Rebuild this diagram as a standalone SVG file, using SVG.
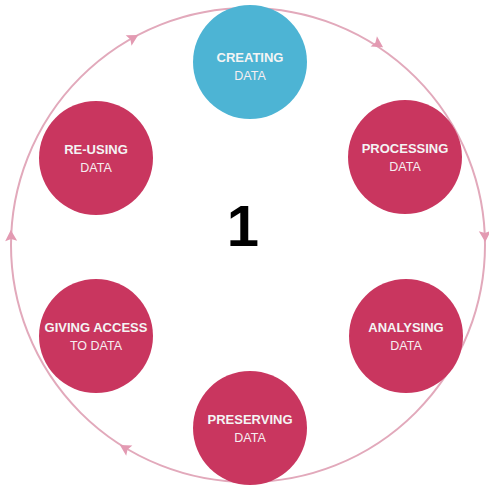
<svg xmlns="http://www.w3.org/2000/svg" xmlns:xlink="http://www.w3.org/1999/xlink" width="489" height="486" viewBox="0 0 489 486">
  <style>
    .ring { fill: none; stroke: #e2a9bb; stroke-width: 2; }
    .head { fill: #e39ab2; }
    .stage { fill: #c9365f; }
    .start { fill: #4db4d4; }
    .t1 { font-family: "Liberation Sans", Arial, sans-serif; font-size: 13px; font-weight: bold; fill: #f4f4f4; text-anchor: middle; }
    .t2 { font-family: "Liberation Sans", Arial, sans-serif; font-size: 12.5px; fill: #f6eef1; text-anchor: middle; }
    .num { font-family: "Liberation Sans", Arial, sans-serif; font-size: 58px; font-weight: bold; fill: #000; text-anchor: middle; }
  </style>
  <defs>
    <path id="arrowhead" class="head" d="M6,0 L-5,-6 L-3,0 L-5,6 Z"/>
  </defs>
  <rect width="489" height="486" fill="#ffffff"/>

  <!-- lifecycle ring with clockwise arrowheads -->
  <g id="connectors">
    <circle class="ring" cx="248" cy="245" r="237"/>
    <use xlink:href="#arrowhead" transform="translate(133,38) rotate(-29)"/>
    <use xlink:href="#arrowhead" transform="translate(378,44) rotate(32)"/>
    <use xlink:href="#arrowhead" transform="translate(485,236) rotate(88)"/>
    <use xlink:href="#arrowhead" transform="translate(125,448) rotate(211)"/>
    <use xlink:href="#arrowhead" transform="translate(11,236) rotate(268)"/>
  </g>

  <g id="creating">
    <circle class="start" cx="250" cy="62" r="57"/>
    <text class="t1" x="250" y="62">CREATING</text>
    <text class="t2" x="250" y="80">DATA</text>
  </g>

  <g id="processing">
    <circle class="stage" cx="405" cy="157" r="57"/>
    <text class="t1" x="405" y="153">PROCESSING</text>
    <text class="t2" x="405" y="171">DATA</text>
  </g>

  <g id="analysing">
    <circle class="stage" cx="406" cy="336" r="57"/>
    <text class="t1" x="406" y="332">ANALYSING</text>
    <text class="t2" x="406" y="350">DATA</text>
  </g>

  <g id="preserving">
    <circle class="stage" cx="250" cy="428" r="57"/>
    <text class="t1" x="250" y="424">PRESERVING</text>
    <text class="t2" x="250" y="442">DATA</text>
  </g>

  <g id="giving-access">
    <circle class="stage" cx="96" cy="336" r="57"/>
    <text class="t1" x="96" y="332">GIVING ACCESS</text>
    <text class="t2" x="96" y="350">TO DATA</text>
  </g>

  <g id="re-using">
    <circle class="stage" cx="96" cy="158" r="57"/>
    <text class="t1" x="96" y="154">RE-USING</text>
    <text class="t2" x="96" y="172">DATA</text>
  </g>

  <g id="step-number">
    <text class="num" x="243" y="246">1</text>
  </g>
</svg>
